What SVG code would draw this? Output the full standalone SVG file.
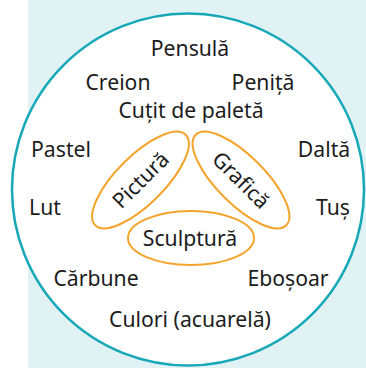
<svg xmlns="http://www.w3.org/2000/svg" width="366" height="368" viewBox="0 0 366 368">
  <style>
    .t { font-family: "Noto Sans", "Open Sans", "DejaVu Sans", sans-serif; font-size: 21.2px; fill: #1c1c1c; text-anchor: middle; }
    .ring { fill: none; stroke: #f4a42c; stroke-width: 2; }
  </style>
  <rect x="0" y="0" width="366" height="368" fill="#ffffff"/>
  <rect x="28" y="0" width="338" height="368" fill="#e1f2f5"/>
  <g id="circle">
    <circle cx="188" cy="189.5" r="176" fill="#ffffff" stroke="#17a8b8" stroke-width="2.5"/>
  </g>
  <g id="tools">
    <text class="t" x="190" y="56">Pensulă</text>
    <text class="t" x="118" y="90">Creion</text>
    <text class="t" x="263" y="90">Peniță</text>
    <text class="t" x="191" y="118">Cuțit de paletă</text>
    <text class="t" x="61" y="157">Pastel</text>
    <text class="t" x="324" y="157">Daltă</text>
    <text class="t" x="45" y="215">Lut</text>
    <text class="t" x="333" y="215">Tuș</text>
    <text class="t" x="96" y="286">Cărbune</text>
    <text class="t" x="288" y="286">Eboșoar</text>
    <text class="t" x="190" y="327">Culori (acuarelă)</text>
  </g>
  <g id="pictura" transform="translate(140.5,180) rotate(-45)">
    <ellipse class="ring" cx="0" cy="0" rx="64" ry="24"/>
    <text class="t" x="0" y="7.5">Pictură</text>
  </g>
  <g id="grafica" transform="translate(241,180) rotate(45)">
    <ellipse class="ring" cx="0" cy="0" rx="64" ry="24"/>
    <text class="t" x="0" y="7.5">Grafică</text>
  </g>
  <g id="sculptura">
    <ellipse class="ring" cx="191" cy="238" rx="63" ry="27"/>
    <text class="t" x="190" y="246">Sculptură</text>
  </g>
</svg>
